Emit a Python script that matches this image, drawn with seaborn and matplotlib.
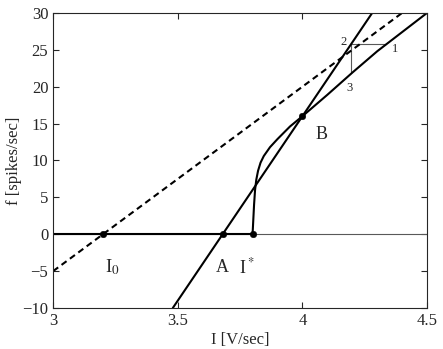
import seaborn as sns
import matplotlib.pyplot as plt

# dashed line (linear fI approximation through I0)
dash_I = [3.0, 4.5]
dash_f = [-5.0, 32.5]

# straight line through A and B
line_I = [3.48, 4.28]
line_f = [-10.0, 30.0]

# f-I curve: silent branch then rising branch from I*
zero_I = [3.0, 3.8]
zero_f = [0.0, 0.0]
curve_I = [3.80, 3.803, 3.806, 3.81, 3.815, 3.822, 3.832, 3.845, 3.87, 3.90,
           3.95, 4.00, 4.10, 4.20, 4.30, 4.40, 4.50]
curve_f = [0.0, 2.0, 4.0, 6.0, 7.4, 8.6, 9.7, 10.6, 11.8, 12.9,
           14.6, 16.0, 18.9, 21.9, 24.8, 27.4, 30.0]

# staircase 1 -> 2 -> 3
stair_I = [4.337, 4.193, 4.193]
stair_f = [25.8, 25.8, 21.9]

# labelled points
pt_names = ['I0', 'A', 'Istar', 'B']
pt_I = [3.2, 3.68, 3.8, 4.0]
pt_f = [0.0, 0.0, 0.0, 16.0]

sns.set_style('ticks')
plt.rcParams['font.family'] = ['Liberation Serif', 'DejaVu Serif']
plt.rcParams['mathtext.fontset'] = 'stix'

fig = plt.figure(figsize=(4.43, 3.49), dpi=100)
ax = fig.add_axes([0.12, 0.1175, 0.844, 0.8455])

ax.axhline(0, color='0.35', lw=0.8, zorder=1)
sns.lineplot(x=stair_I, y=stair_f, ax=ax, color='0.35', lw=0.8,
             sort=False, estimator=None)
sns.lineplot(x=dash_I, y=dash_f, ax=ax, color='black', lw=1.5,
             linestyle=(0, (3, 2)), estimator=None)
sns.lineplot(x=line_I, y=line_f, ax=ax, color='black', lw=1.5, estimator=None)
sns.lineplot(x=zero_I, y=zero_f, ax=ax, color='black', lw=1.5, estimator=None)
sns.lineplot(x=curve_I, y=curve_f, ax=ax, color='black', lw=1.5,
             sort=False, estimator=None)
sns.scatterplot(x=pt_I, y=pt_f, ax=ax, color='black', s=22, zorder=5,
                edgecolor='black')

ax.text(3.237, -4.4, r'I$_{\mathrm{0}}$', fontsize=13.5, ha='center', va='center')
ax.text(3.679, -4.5, 'A', fontsize=13, ha='center', va='center')
ax.text(3.775, -4.5, r'I$^*$', fontsize=13, ha='center', va='center')
ax.text(4.076, 13.5, 'B', fontsize=13, ha='center', va='center')
ax.text(4.165, 26.1, '2', fontsize=9, ha='center', va='center')
ax.text(4.37, 25.1, '1', fontsize=9, ha='center', va='center')
ax.text(4.19, 19.8, '3', fontsize=9, ha='center', va='center')

ax.set_xlim(3, 4.5)
ax.set_ylim(-10, 30)
ax.set_xticks([3, 3.5, 4, 4.5])
ax.set_xticklabels(['3', '3.5', '4', '4.5'])
ax.set_yticks(range(-10, 31, 5))
ax.tick_params(direction='in', top=True, right=True, length=4, width=0.8,
               labelsize=12)
for sp in ax.spines.values():
    sp.set_linewidth(0.8)
ax.set_xlabel('I [V/sec]', fontsize=12, labelpad=2)
ax.set_ylabel('f [spikes/sec]', fontsize=12, labelpad=0)

plt.savefig('out.png', dpi=100)
